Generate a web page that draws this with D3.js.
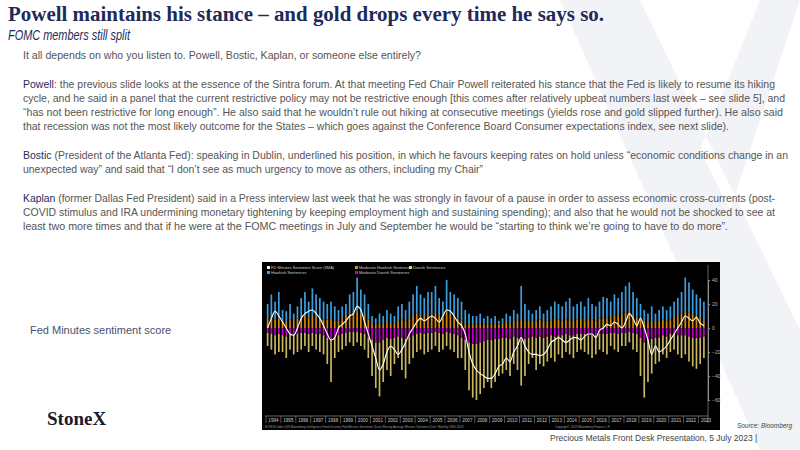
<!DOCTYPE html>
<html lang="en">
<head>
<meta charset="utf-8">
<title>Fed Minutes sentiment</title>
<script src="https://cdn.jsdelivr.net/npm/d3@7"></script>
<style>
body { margin: 0; background: #fff; }
svg text { font-family: "Liberation Sans Narrow", "Liberation Sans", sans-serif; }
</style>
</head>
<body>
<script>
// quarterly readings, 1994 Q1 .. 2023 Q2
var startYear = 1994;
var years = d3.range(1994, 2024);
var hawkTop = [20,28,22,30, 15,14,20,12, 18,25,30,22, 33,28,25,22, 20,22,18,15, 18,20,28,30, 42,32,28,20,
  10,8,12,10, 15,12,10,18, 20,15,22,28, 35,28,25,30, 30,35,25,22, 40,30,28,25, 22,15,12,10, 10,12,8,10,
  8,10,6,8, 12,10,15,12, 35,20,15,12, 15,18,12,15, 18,22,20,18, 22,25,18,20, 22,18,25,20, 18,22,26,25,
  22,28,25,30, 35,38,30,25, 20,15,12,18, 12,15,18,15, 18,22,25,30, 42,38,32,28, 25,22];
var modHawk = [8,9,7,8, 6,5,7,5, 8,9,10,8, 10,9,8,7, 7,8,6,6, 9,10,12,13, 14,12,10,7,
  4,3,4,4, 5,4,4,6, 7,6,8,10, 12,11,10,11, 12,13,10,9, 14,12,10,8, 6,4,3,3, 3,4,3,3,
  3,4,3,4, 5,4,6,5, 8,6,6,5, 6,7,5,6, 6,8,7,6, 7,8,6,7, 8,6,8,7, 6,8,9,8,
  9,11,10,12, 13,14,11,9, 7,6,5,6, 5,6,7,6, 7,9,10,12, 14,13,11,10, 8,6];
var modDove = [-4,-5,-6,-5, -6,-7,-5,-6, -5,-4,-4,-5, -4,-5,-5,-6, -8,-10,-7,-6, -5,-4,-3,-3, -3,-4,-5,-8,
  -10,-12,-12,-10, -8,-9,-8,-7, -8,-9,-7,-6, -5,-4,-5,-4, -4,-3,-4,-5, -3,-4,-5,-6, -8,-10,-12,-13, -13,-12,-11,-10,
  -10,-9,-9,-8, -8,-9,-7,-8, -10,-9,-8,-7, -8,-7,-8,-7, -6,-7,-6,-6, -5,-6,-6,-5, -5,-5,-6,-6, -6,-5,-5,-5,
  -4,-4,-5,-4, -4,-3,-4,-5, -8,-12,-10,-9, -8,-8,-6,-7, -5,-5,-6,-6, -6,-7,-8,-8, -8,-7];
var doveBottom = [-15,-18,-22,-20, -20,-25,-18,-22, -20,-18,-15,-20, -15,-18,-20,-22, -30,-45,-25,-20, -18,-15,-12,-15, -12,-15,-18,-25,
  -40,-50,-57,-45, -35,-40,-30,-25, -35,-42,-30,-25, -20,-18,-22,-20, -18,-15,-20,-18, -15,-18,-20,-25, -25,-35,-52,-58, -60,-55,-50,-45,
  -50,-45,-40,-38, -35,-40,-30,-35, -48,-40,-30,-25, -35,-30,-32,-28, -25,-28,-22,-25, -20,-22,-25,-20, -18,-20,-22,-25, -22,-18,-20,-22,
  -15,-18,-20,-15, -15,-12,-18,-20, -40,-58,-45,-38, -30,-28,-22,-25, -20,-18,-22,-25, -22,-28,-32,-34, -30,-25];
var score3ma = [0,8,14,10, 5,0,-5,-6, 0,8,12,14, 15,12,8,2, -5,-10,-8,0, 3,6,10,12, 18,15,5,-5,
  -15,-25,-35,-30, -20,-15,-18,-22, -18,-12,-5,0, 5,8,6,8, 10,8,5,10, 15,14,10,5, 2,-5,-20,-30, -35,-38,-40,-42,
  -42,-38,-32,-30, -25,-28,-20,-15, -8,-15,-20,-22, -22,-23,-22,-18, -12,-10,-8,-10, -12,-10,-8,-8, -10,-7,-5,-5, -8,-2,0,3,
  2,5,3,0, 5,12,8,2, 8,0,-10,-22, -15,-20,-18,-15, -10,-5,0,5, 10,8,6,9, 4,2];
var yTicks = [40, 20, 0, -20, -40, -60];
var legendItems = [
  ["FD Minutes Sentiment Score (3MA)", "#ffffff"], ["Moderate Hawkish Sentences", "#d98b0a"], ["Dovish Sentences", "#e8d44d"],
  ["Hawkish Sentences", "#3b9ee0"], ["Moderate Dovish Sentences", "#c000c0"]
];

var W = 800, H = 450;
var svg = d3.select("body").append("svg").attr("width", W).attr("height", H);

// watermark X
svg.append("path").attr("d", "M560,0 L640,0 L800,330 L800,450 L760,450 Z M800,0 L760,0 L700,150 L730,210 Z")
  .attr("fill", "#f2f3f7");

// title block
svg.append("text").attr("x", 8).attr("y", 21).text("Powell maintains his stance – and gold drops every time he says so.")
  .attr("textLength", 596).attr("lengthAdjust", "spacingAndGlyphs")
  .style("font-family", "'Liberation Serif', serif").style("font-size", "20.5px").style("font-weight", "bold").attr("fill", "#1f2a5a");
svg.append("text").attr("x", 8).attr("y", 40).text("FOMC members still split")
  .attr("textLength", 122).attr("lengthAdjust", "spacingAndGlyphs")
  .style("font-size", "14px").style("font-style", "italic").attr("fill", "#1f2a5a");

var body = [
  [59, "", "It all depends on who you listen to.  Powell, Bostic, Kaplan, or someone else entirely?", 398],
  [88, "Powell", ": the previous slide looks at the essence of the Sintra forum.  At that meeting Fed Chair Powell reiterated his stance that the Fed is likely to resume its hiking", 752],
  [102, "", "cycle, and he said in a panel that the current restrictive policy may not be restrictive enough [this comes after relatively upbeat numbers last week – see slide 5], and", 762],
  [116, "", "“has not been restrictive for long enough”.  He also said that he wouldn’t rule out hiking at consecutive meetings (yields rose and gold slipped further).  He also said", 760],
  [130, "", "that recession was not the most likely outcome for the States – which goes against the Conference Board Consumer expectations index, see next slide).", 706],
  [159, "Bostic", " (President of the Atlanta Fed): speaking in Dublin, underlined his position, in which he favours keeping rates on hold unless “economic conditions change in an", 765],
  [173, "", "unexpected way” and said that “I don’t see as much urgency to move as others, including my Chair”", 460],
  [202, "Kaplan", " (former Dallas Fed President) said in  a Press interview last week that he was strongly in favour of a pause in order to assess economic cross-currents (post-", 752],
  [216, "", "COVID stimulus and IRA undermining monetary tightening by keeping employment high and sustaining spending); and also that he would not be shocked to see at", 752],
  [230, "", "least two more times and that if he were at the FOMC meetings in July and September he would be “starting to think we’re going to have to do more”.", 705]
];
body.forEach(function(b) {
  var t = svg.append("text").attr("x", 23).attr("y", b[0]).style("font-size", "10.6px").attr("fill", "#555")
    .attr("textLength", b[3]).attr("lengthAdjust", "spacingAndGlyphs");
  if (b[1]) t.append("tspan").attr("fill", "#1f2a5a").text(b[1]);
  t.append("tspan").text(b[2]);
});

svg.append("text").attr("x", 30).attr("y", 334).text("Fed Minutes sentiment score").style("font-size", "11px").attr("fill", "#4a5070");
svg.append("text").attr("x", 47).attr("y", 425).text("StoneX").style("font-family", "'Liberation Serif', serif")
  .style("font-size", "19px").style("font-weight", "bold").attr("fill", "#1a1a2a");
svg.append("text").attr("x", 737).attr("y", 428).text("Source: Bloomberg").attr("textLength", 55).attr("lengthAdjust", "spacingAndGlyphs")
  .style("font-size", "7px").style("font-style", "italic").attr("fill", "#444");
svg.append("text").attr("x", 550).attr("y", 441).text("Precious Metals Front Desk Presentation, 5 July 2023 |").style("font-size", "8.5px").attr("fill", "#444");

// chart
var cx0 = 262, cx1 = 720, cy0 = 262, cy1 = 430;
svg.append("rect").attr("x", cx0).attr("y", cy0).attr("width", cx1 - cx0).attr("height", cy1 - cy0).attr("fill", "#000");

var n = hawkTop.length;
var x = d3.scaleLinear().domain([startYear, startYear + 29.5]).range([266, 706]);
var y = d3.scaleLinear().domain([-60, 40]).range([400, 280]);
var bw = (x(startYear + 0.25) - x(startYear)) * 0.45;
var qx = function(i) { return x(startYear + i / 4) + 0.8; };

var g = svg.append("g");
function bars(cls, color, lo, hi) {
  g.selectAll("rect." + cls).data(d3.range(n)).enter().append("rect").attr("class", cls)
    .attr("x", qx).attr("width", bw)
    .attr("y", function(i) { return y(Math.max(lo(i), hi(i))); })
    .attr("height", function(i) { return Math.abs(y(lo(i)) - y(hi(i))); })
    .attr("fill", color);
}
bars("hk", "#3b9ee0", function(i) { return modHawk[i]; }, function(i) { return hawkTop[i]; });
bars("mh", "#d98b0a", function() { return 0; }, function(i) { return modHawk[i]; });
bars("dv", "#c9b860", function(i) { return modDove[i]; }, function(i) { return doveBottom[i]; });
bars("md", "#c000c0", function() { return 0; }, function(i) { return modDove[i]; });
svg.append("path").datum(score3ma)
  .attr("d", d3.line().x(function(d, i) { return qx(i) + bw / 2; }).y(function(d) { return y(d); }).curve(d3.curveMonotoneX))
  .attr("fill", "none").attr("stroke", "#fff").attr("stroke-width", 1.1);

// right axis
var ax = svg.append("g").attr("transform", "translate(708,0)")
  .call(d3.axisRight(y).tickValues(yTicks).tickSize(2).tickPadding(2));
ax.select(".domain").attr("stroke", "#888");
ax.selectAll("line").attr("stroke", "#888");
ax.selectAll("text").attr("fill", "#bbb").style("font-size", "5px");

// year strip
svg.append("line").attr("x1", 265).attr("x2", 708).attr("y1", 416).attr("y2", 416).attr("stroke", "#aaa").attr("stroke-width", 0.6);
svg.append("line").attr("x1", 708).attr("x2", 708).attr("y1", 265).attr("y2", 423).attr("stroke", "#aaa").attr("stroke-width", 0.6);
var yg = svg.append("g");
yg.selectAll("line").data(years).enter().append("line")
  .attr("x1", function(d) { return x(d); }).attr("x2", function(d) { return x(d); })
  .attr("y1", 416).attr("y2", 423).attr("stroke", "#aaa").attr("stroke-width", 0.5);
yg.selectAll("text").data(years).enter().append("text")
  .attr("x", function(d) { return x(d + 0.5); }).attr("y", 421.5).attr("text-anchor", "middle")
  .text(String).style("font-size", "4.6px").attr("fill", "#ccc");
svg.append("text").attr("x", 265).attr("y", 428).text("ECFDSI Index (US Bloomberg Intelligence Fixed Income) Fed Minutes Sentiment Score Moving Average Minutes Sentiment Detr. Monthly 1994-2023")
  .style("font-size", "3px").attr("fill", "#999");
svg.append("text").attr("x", 555).attr("y", 428).text("Copyright© 2023 Bloomberg Finance L.P.").style("font-size", "3px").attr("fill", "#999");

// legend
var lg = svg.append("g");
legendItems.forEach(function(d, i) {
  var col = i < 3 ? i : i - 3, row = i < 3 ? 0 : 1;
  var lx = 267 + [0, 88, 142][col], ly = 266 + row * 5;
  lg.append("rect").attr("x", lx).attr("y", ly).attr("width", 3).attr("height", 3).attr("fill", d[1]);
  lg.append("text").attr("x", lx + 4).attr("y", ly + 3).text(d[0]).style("font-size", "4px").attr("fill", "#ccc");
});
</script>
</body>
</html>
